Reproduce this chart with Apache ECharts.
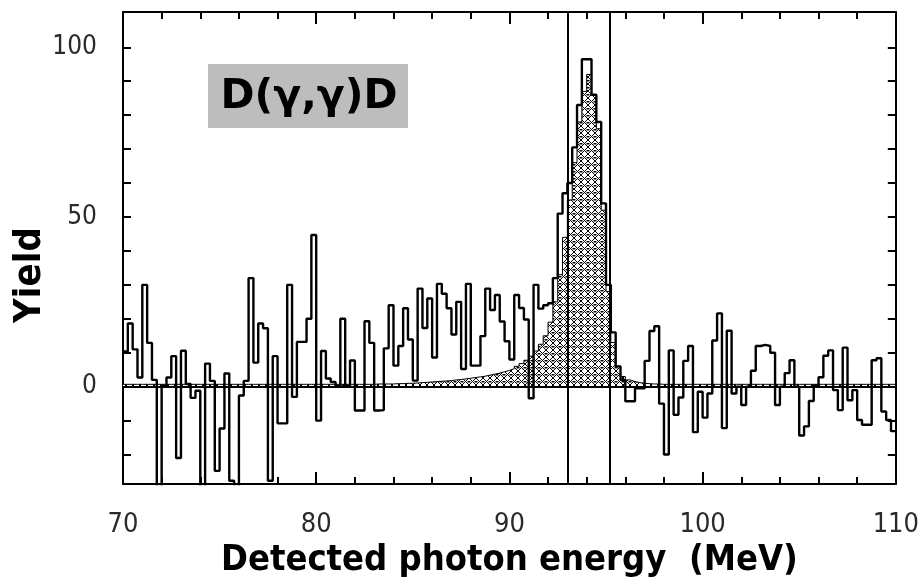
<!DOCTYPE html>
<html>
<head>
<meta charset="utf-8">
<title>D(γ,γ)D yield</title>
<script src="https://cdn.jsdelivr.net/npm/echarts@6/dist/echarts.min.js"></script>
</head>
<body style="margin:0;background:#fff">
<div id="main" style="width:922px;height:584px;"></div>
<script>
// histogram bins: 0.25 MeV wide, starting at 70 MeV
var binStart = 70;
var binWidth = 0.25;

// measured yield, one row = 2 MeV
var yieldData = [
  10.4, 18.6, 11, 2.7, 30, 12.9, 2, -40,
  0.3, 2.7, 9, -21, 10.6, 0.8, -3.3, -1.2,
  -40, 6.8, 1.7, -24.8, -12.3, 3.9, -27.7, -40,
  -2.6, 1.7, 32, 7.1, 18.6, 17.2, -27.7, 9,
  -10.8, -10.8, 30, -3, 13.2, 13.2, 20, 44.7,
  -10, 10.5, 2.4, 1.4, 0.3, 20, 0.3, 7.7,
  -7, -7, 19.3, 12.9, -7, -6.9, 11.3, 24,
  6.2, 12, 23.1, 13.9, 1.8, 28.9, 17.3, 26,
  8.6, 30.3, 27.4, 23.1, 15.4, 25, 5.2, 30.3,
  6.2, 6.2, 14.9, 28.9, 22.6, 27, 19.2, 13.4,
  8, 27, 23.2, 19.8, -3.4, 30, 23, 24,
  24.6, 32, 51, 57, 60, 70.5, 83, 96.5,
  96.5, 86, 78, 54, 30, 16, 6, 2,
  -4.3, -4.3, -0.5, -0.5, 7.6, 16.4, 17.8, -5,
  -20, 10.7, -8.3, -3.2, 7.6, 12, -13.4, -1.5,
  -9.1, -2, 13.6, 21.6, -12.2, 16.5, -2, 0,
  -5.4, 0, 4.7, 12, 12.3, 12, 10, -5.4,
  0, 4, 7.8, 0, -14.4, -11.7, -4.2, 0.4,
  2.8, 9.1, 10.7, -1, -6.9, 11.5, -4, -1,
  -9.8, -11.2, -11.2, 7.8, 8.4, -7.3, -9.8, -13.1
];

// simulated line shape (hatched)
var simData = [
  0.7, 0.7, 0.7, 0.7, 0.7, 0.7, 0.7, 0.7,
  0.7, 0.7, 0.7, 0.7, 0.7, 0.7, 0.7, 0.7,
  0.7, 0.7, 0.7, 0.7, 0.7, 0.7, 0.7, 0.7,
  0.7, 0.7, 0.7, 0.7, 0.7, 0.7, 0.7, 0.7,
  0.7, 0.7, 0.7, 0.7, 0.7, 0.7, 0.7, 0.7,
  0.7, 0.7, 0.7, 0.7, 0.7, 0.7, 0.7, 0.7,
  0.7, 0.7, 0.7, 0.7, 0.8, 0.8, 0.8, 0.8,
  0.9, 0.9, 1, 1, 1.1, 1.2, 1.3, 1.4,
  1.5, 1.6, 1.7, 1.8, 2, 2.1, 2.3, 2.5,
  2.7, 2.9, 3.1, 3.4, 3.7, 4, 4.4, 4.8,
  5.3, 6, 6.8, 7.8, 9, 10.5, 12.5, 15,
  19, 25, 33, 44, 55, 66, 78, 87,
  92, 86, 76, 52, 28, 13, 6, 3,
  2, 1.5, 1.2, 1, 0.9, 0.8, 0.8, 0.7,
  0.7, 0.7, 0.7, 0.7, 0.7, 0.7, 0.7, 0.7,
  0.7, 0.7, 0.7, 0.7, 0.7, 0.7, 0.7, 0.7,
  0.7, 0.7, 0.7, 0.7, 0.7, 0.7, 0.7, 0.7,
  0.7, 0.7, 0.7, 0.7, 0.7, 0.7, 0.7, 0.7,
  0.7, 0.7, 0.7, 0.7, 0.7, 0.7, 0.7, 0.7,
  0.7, 0.7, 0.7, 0.7, 0.7, 0.7, 0.7, 0.7
];

var windowLines = [93.0, 95.2];
var yTickValues = [-20, -10, 0, 10, 20, 30, 40, 50, 60, 70, 80, 90, 100];
var yLabelValues = [0, 50, 100];

function stepPoints(vals) {
  var pts = [];
  for (var i = 0; i < vals.length; i++) pts.push([binStart + i * binWidth, vals[i]]);
  pts.push([binStart + vals.length * binWidth, vals[vals.length - 1]]);
  return pts;
}

// cross hatch tile for the simulated spectrum: diamonds with a dot inside
var tile = document.createElement('canvas');
tile.width = 7; tile.height = 7;
var tc = tile.getContext('2d');
tc.fillStyle = '#fff'; tc.fillRect(0, 0, 7, 7);
tc.strokeStyle = '#000'; tc.lineWidth = 1;
tc.beginPath();
tc.moveTo(0, 0); tc.lineTo(7, 7);
tc.moveTo(7, 0); tc.lineTo(0, 7);
tc.stroke();
tc.fillStyle = '#000';
tc.fillRect(0, 3, 1.5, 1.5);
tc.fillRect(5.5, 3, 1.5, 1.5);

var narrow = "'Liberation Sans Narrow', 'DejaVu Sans Condensed', 'Liberation Sans', sans-serif";
var frame = { show: true, onZero: false, lineStyle: { color: '#000', width: 2 } };
var tick = { inside: true, lineStyle: { color: '#000', width: 2 } };

var myChart = echarts.init(document.getElementById('main'));
myChart.setOption({
  animation: false,
  backgroundColor: '#fff',
  grid: { left: 123, right: 25, top: 12, bottom: 92 },
  xAxis: [{
    type: 'value', min: 70, max: 110, interval: 10, position: 'bottom',
    axisLine: frame,
    axisTick: Object.assign({ length: 12 }, tick),
    minorTick: { show: true, splitNumber: 5, length: 7, lineStyle: { color: '#000', width: 2 } },
    splitLine: { show: false },
    axisLabel: { fontSize: 27, color: '#2a2a2a', margin: 27, fontFamily: narrow },
    name: 'Detected photon energy  (MeV)', nameLocation: 'middle', nameGap: 50,
    nameTextStyle: { fontSize: 36, fontWeight: 'bold', color: '#000', fontFamily: narrow }
  }, {
    type: 'value', min: 70, max: 110, interval: 10, position: 'top',
    axisLine: frame,
    axisTick: Object.assign({ length: 12 }, tick),
    minorTick: { show: true, splitNumber: 5, length: 7, lineStyle: { color: '#000', width: 2 } },
    splitLine: { show: false },
    axisLabel: { show: false }
  }],
  yAxis: [{
    type: 'value', min: -28.7, max: 110.4, position: 'left',
    axisLine: frame,
    axisTick: Object.assign({ length: 8, customValues: yTickValues }, tick),
    splitLine: { show: false },
    axisLabel: { customValues: yLabelValues, fontSize: 26, color: '#2a2a2a', margin: 26, fontFamily: narrow }
  }, {
    type: 'value', min: -28.7, max: 110.4, position: 'right',
    axisLine: frame,
    axisTick: Object.assign({ length: 8, customValues: yTickValues }, tick),
    splitLine: { show: false },
    axisLabel: { show: false }
  }],
  graphic: [
    { type: 'rect', shape: { x: 208, y: 64, width: 200, height: 64 }, style: { fill: '#bdbdbd' }, z: 10 },
    { type: 'text', x: 309, y: 97, z: 11,
      style: { text: 'D(γ,γ)D', font: "bold 41px 'DejaVu Sans'", fill: '#000', align: 'center', verticalAlign: 'middle' } },
    { type: 'text', x: 30, y: 275, rotation: Math.PI / 2, z: 11,
      style: { text: 'Yield', font: 'bold 38px ' + narrow, fill: '#000', align: 'center', verticalAlign: 'middle' } }
  ],
  series: [{
    name: 'simulation', type: 'line', step: 'end', data: stepPoints(simData),
    showSymbol: false, z: 2,
    lineStyle: { color: '#000', width: 1 },
    areaStyle: { origin: 0, opacity: 1, color: { image: tile, repeat: 'repeat' } }
  }, {
    name: 'yield', type: 'line', step: 'end', data: stepPoints(yieldData),
    showSymbol: false, z: 3,
    lineStyle: { color: '#000', width: 2.4 },
    markLine: {
      silent: true, symbol: 'none', label: { show: false },
      lineStyle: { color: '#000', width: 2, type: 'solid' },
      data: windowLines.map(function (e) { return { xAxis: e }; }).concat([{ yAxis: 0 }])
    }
  }]
});
</script>
</body>
</html>
